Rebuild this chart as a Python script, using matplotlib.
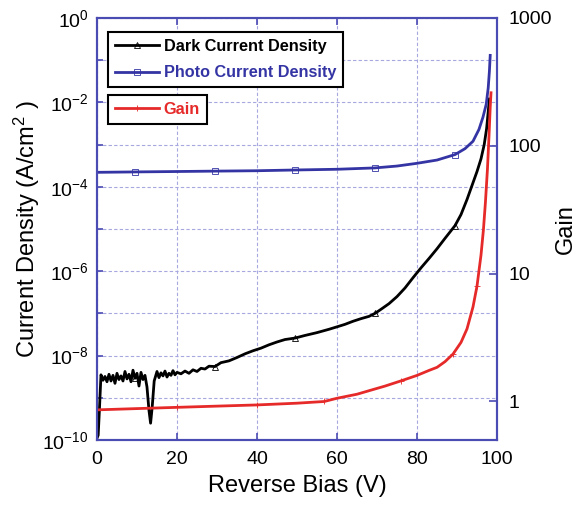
import matplotlib
matplotlib.use("Agg")
import matplotlib.pyplot as plt
from matplotlib.ticker import NullFormatter

plt.rcParams['font.family'] = ['Liberation Sans', 'DejaVu Sans']
plt.rcParams['mathtext.fontset'] = 'custom'
plt.rcParams['mathtext.rm'] = 'Liberation Sans'
plt.rcParams['mathtext.it'] = 'Liberation Sans:italic'
plt.rcParams['mathtext.bf'] = 'Liberation Sans:bold'

# dark current density (A/cm^2) vs reverse bias (V)
dark_v = [0, 0.3, 0.6, 1.0, 1.5, 2.0, 2.5, 3.0, 3.5, 4.0, 4.5, 5.0, 5.5, 6.0, 6.5,
          7.0, 7.5, 8.0, 8.5, 9.0, 9.5, 10.0, 10.5, 11.0, 11.5, 12.0, 12.5, 13.0,
          13.4, 13.8, 14.3, 15.0, 15.5, 16.0, 16.5, 17, 17.5, 18, 18.5, 19, 19.5,
          20, 21, 22, 23, 24, 25, 26, 27, 28, 29.5, 31, 33, 35, 37, 39, 41, 43, 45,
          47, 49.5, 52, 55, 58, 60, 62, 64, 66, 68, 69.5, 71, 73, 75, 77, 79, 81,
          83, 85, 87, 89.5, 91, 92.5, 94, 95, 96, 96.8, 97.4, 97.8, 98.1]
dark_j = [1.1e-10, 1.3e-10, 5e-10, 3.5e-9, 2.6e-9, 3.2e-9, 2.4e-9, 3.6e-9, 2.5e-9,
          3.4e-9, 2.2e-9, 3.8e-9, 2.7e-9, 3.3e-9, 2.5e-9, 4.2e-9, 2.8e-9, 3.6e-9,
          2.4e-9, 4.5e-9, 2.9e-9, 3.8e-9, 1.9e-9, 4.0e-9, 2.7e-9, 3.4e-9, 1.8e-9,
          5e-10, 2.5e-10, 6e-10, 2.5e-9, 4.2e-9, 3.0e-9, 3.9e-9, 3.3e-9, 4.3e-9,
          3.1e-9, 3.8e-9, 3.4e-9, 4.4e-9, 3.5e-9, 4.0e-9, 3.7e-9, 4.3e-9, 3.8e-9,
          4.6e-9, 4.2e-9, 5.0e-9, 4.8e-9, 5.6e-9, 5.5e-9, 6.8e-9, 7.5e-9, 9.0e-9,
          1.1e-8, 1.3e-8, 1.5e-8, 1.8e-8, 2.1e-8, 2.4e-8, 2.6e-8, 3.0e-8, 3.5e-8,
          4.2e-8, 4.8e-8, 5.5e-8, 6.5e-8, 7.5e-8, 8.5e-8, 1.0e-7, 1.25e-7, 1.7e-7,
          2.5e-7, 4.0e-7, 7.0e-7, 1.2e-6, 2.0e-6, 3.4e-6, 6.0e-6, 1.2e-5, 2.2e-5,
          5.0e-5, 1.25e-4, 2.3e-4, 4.6e-4, 1.0e-3, 2.4e-3, 6e-3, 1.2e-2]

# photo current density
photo_v = [0, 9.5, 20, 29.5, 40, 49.5, 60, 69.5, 75, 80, 85, 89.5, 92, 94, 95.5,
           96.5, 97.3, 97.8, 98.1, 98.3]
photo_j = [2.2e-4, 2.25e-4, 2.3e-4, 2.35e-4, 2.4e-4, 2.5e-4, 2.6e-4, 2.8e-4, 3.1e-4,
           3.6e-4, 4.3e-4, 5.8e-4, 8e-4, 1.2e-3, 2.3e-3, 4.5e-3, 9e-3, 2.2e-2,
           5.5e-2, 1.3e-1]

# gain
gain_v = [0, 5, 10, 20, 30, 40, 50, 56.8, 60, 65, 69, 72, 76, 80, 83, 85, 87, 89,
          91, 92.5, 94, 95, 96, 96.6, 97.1, 97.6, 98, 98.3, 98.5]
gain = [0.86, 0.87, 0.88, 0.9, 0.92, 0.94, 0.97, 1.0, 1.06, 1.14, 1.24, 1.32, 1.45,
        1.6, 1.75, 1.85, 2.05, 2.35, 2.9, 3.7, 5.5, 8, 14, 22, 36, 65, 120, 200, 260]

marker_v = [9.5, 29.5, 49.5, 69.5, 89.5]
gain_marker_v = [20, 40, 56.8, 76, 89, 95]

spine_c = '#4b4bb4'
grid_c = '#a8a8e0'
blue = '#3434a4'
red = '#e62a2a'

fig = plt.figure(figsize=(5.79, 5.08), dpi=100)
ax = fig.add_axes([0.1675, 0.1339, 0.6909, 0.8307])
ax2 = ax.twinx()

l1, = ax.plot(dark_v, dark_j, color='black', lw=2, marker='^', ms=5, mfc='none',
              mew=0.6, markevery=[dark_v.index(v) for v in marker_v])
l2, = ax.plot(photo_v, photo_j, color=blue, lw=2, marker='s', ms=5, mfc='none',
              mew=0.6, markevery=[photo_v.index(v) for v in marker_v])
l3, = ax2.plot(gain_v, gain, color=red, lw=2, marker='+', ms=5, mew=0.6,
               markevery=[gain_v.index(v) for v in gain_marker_v])

ax.set_yscale('log')
ax.set_xlim(0, 100)
ax.set_ylim(1e-10, 1)
ax2.set_yscale('log')
ax2.set_ylim(0.5, 1000)

major = [1e-10, 1e-8, 1e-6, 1e-4, 1e-2, 1e0]
ax.set_yticks(major)
ax.set_yticklabels([r'$\mathregular{10^{%d}}$' % e for e in range(-10, 1, 2)])
ax.set_yticks([1e-9, 1e-7, 1e-5, 1e-3, 1e-1], minor=True)
ax.yaxis.set_minor_formatter(NullFormatter())
ax.set_xticks([0, 20, 40, 60, 80, 100])
ax.set_xticks([], minor=True)

ax2.set_yticks([1, 10, 100, 1000])
ax2.set_yticklabels(['1', '10', '100', '1000'])
ax2.set_yticks([], minor=True)
ax2.yaxis.set_minor_formatter(NullFormatter())

ax.grid(True, which='both', axis='y', color=grid_c, ls=(0, (3, 2)), lw=0.8)
ax.grid(True, which='major', axis='x', color=grid_c, ls=(0, (3, 2)), lw=0.8)
ax.set_axisbelow(True)

for a in (ax, ax2):
    for s in a.spines.values():
        s.set_color(spine_c)
        s.set_linewidth(1.5)
ax.tick_params(axis='both', which='both', direction='in', color=spine_c,
               labelsize=14, top=True, right=False, width=1.2)
ax.tick_params(axis='y', which='both', length=4, pad=6)
ax.tick_params(axis='x', length=5, pad=8)
ax2.tick_params(axis='y', direction='in', color=spine_c, labelsize=14, length=6,
                width=1.2, pad=8)

ax.set_xlabel('Reverse Bias (V)', fontsize=17, labelpad=5)
ax.set_ylabel(r'Current Density (A/cm$^{\mathregular{2}}$ )', fontsize=17, labelpad=0)
ax2.set_ylabel('Gain', fontsize=17, labelpad=2)

leg1 = ax.legend([l1, l2], ['Dark Current Density', 'Photo Current Density'],
                 loc='upper left', bbox_to_anchor=(0.0275, 0.967), borderaxespad=0,
                 fancybox=False, edgecolor='black', framealpha=1,
                 prop={'weight': 'bold', 'size': 11.7}, handlelength=2.7,
                 handletextpad=0.3, labelspacing=0.72, borderpad=0.42)
leg1.get_frame().set_linewidth(1.5)
for t, c in zip(leg1.get_texts(), ['black', blue]):
    t.set_color(c)
leg2 = ax2.legend([l3], ['Gain'], loc='upper left', bbox_to_anchor=(0.0275, 0.8175),
                  borderaxespad=0, fancybox=False, edgecolor='black', framealpha=1,
                  prop={'weight': 'bold', 'size': 11.7}, handlelength=2.7,
                  handletextpad=0.3, borderpad=0.42)
leg2.get_frame().set_linewidth(1.5)
leg2.get_texts()[0].set_color(red)

fig.savefig('out.png', dpi=100)
